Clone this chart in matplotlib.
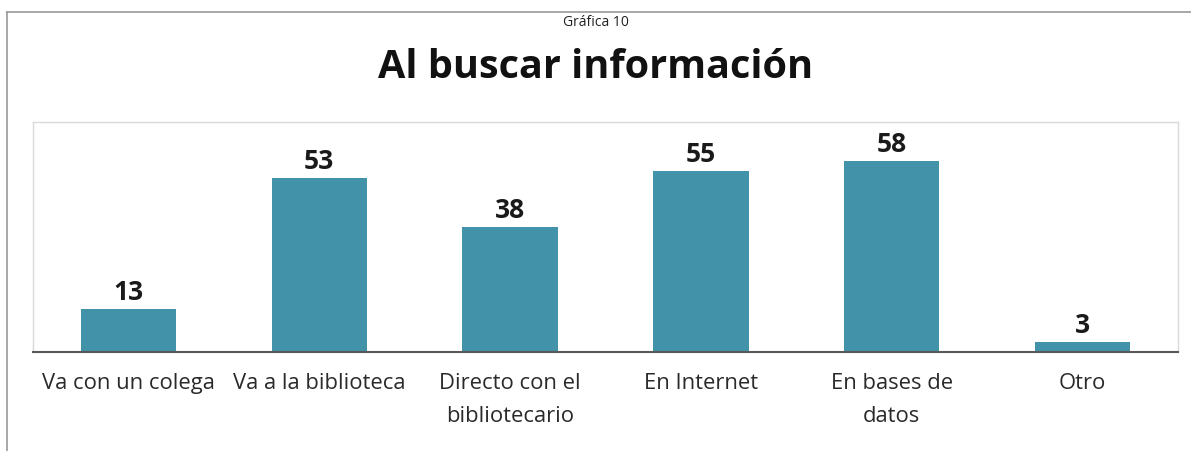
import matplotlib.pyplot as plt
from matplotlib.lines import Line2D

plt.rcParams['font.family'] = ['Open Sans', 'DejaVu Sans']

categorias = ['Va con un colega', 'Va a la biblioteca', 'Directo con el\nbibliotecario',
              'En Internet', 'En bases de\ndatos', 'Otro']
valores = [13, 53, 38, 55, 58, 3]

color_barra = '#4293aa'

fig = plt.figure(figsize=(11.91, 4.51), dpi=100)
ax = fig.add_axes([33 / 1191, 1 - 352 / 451, 1145 / 1191, 230 / 451])

x = range(len(valores))
ax.bar(x, valores, width=0.5, color=color_barra)
for i, v in zip(x, valores):
    ax.text(i, v + 1.0, str(v), ha='center', va='bottom', fontsize=19,
            fontweight='bold', color='#1a1a1a')

ax.set_xlim(-0.5, len(valores) - 0.5)
ax.set_ylim(0, 70)
ax.set_yticks([])
ax.set_xticks(list(x))
ax.set_xticklabels(categorias, fontsize=15.8, color='#2a2a2a', linespacing=1.75)
ax.tick_params(axis='x', length=0, pad=15)

for s in ['top', 'left', 'right']:
    ax.spines[s].set_color('#d9d9d9')
    ax.spines[s].set_linewidth(1)
ax.spines['bottom'].set_color('#595959')
ax.spines['bottom'].set_linewidth(1.5)

# titulo y subtitulo
fig.text(0.5, 1 - 22 / 451, 'Gráfica 10', ha='center', va='center', fontsize=10, color='#222222')
fig.text(0.5, 1 - 68 / 451, 'Al buscar información', ha='center', va='center',
         fontsize=28.5, fontweight='bold', color='#111111')

# marco exterior (parcial, como en la captura)
fig.add_artist(Line2D([7 / 1191, 1], [1 - 12 / 451, 1 - 12 / 451], color='#999999', lw=1.2,
                      transform=fig.transFigure))
fig.add_artist(Line2D([7 / 1191, 7 / 1191], [0, 1 - 12 / 451], color='#999999', lw=1.2,
                      transform=fig.transFigure))

fig.savefig('out.png', dpi=100)
